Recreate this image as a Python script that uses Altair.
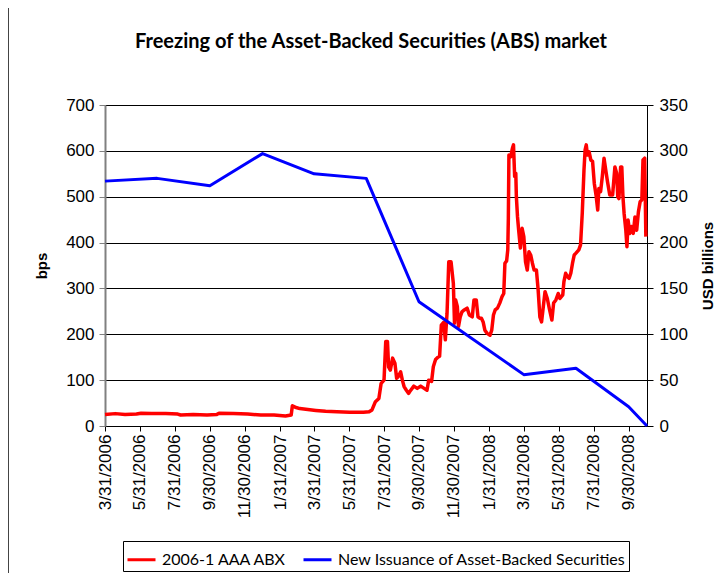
import altair as alt
import pandas as pd

title_text = "Freezing of the Asset-Backed Securities (ABS) market"
series_names = ["2006-1 AAA ABX", "New Issuance of Asset-Backed Securities"]
series_colors = ["#FF0000", "#0000FF"]

# 2006-1 AAA ABX spread (bps, left axis)
abx_dates = [
    "2006-03-31", "2006-04-18", "2006-05-05", "2006-05-25", "2006-06-02", "2006-06-20",
    "2006-07-15", "2006-08-05", "2006-08-10", "2006-09-01", "2006-09-25", "2006-10-12",
    "2006-10-16", "2006-11-10", "2006-12-05", "2006-12-28", "2007-01-20", "2007-02-09",
    "2007-02-19", "2007-02-21", "2007-02-26", "2007-03-06", "2007-03-20", "2007-04-03",
    "2007-04-20", "2007-05-10", "2007-06-01", "2007-06-25", "2007-07-05", "2007-07-10",
    "2007-07-16", "2007-07-22", "2007-07-26", "2007-07-31", "2007-08-03", "2007-08-06",
    "2007-08-08", "2007-08-11", "2007-08-15", "2007-08-19", "2007-08-22", "2007-08-25",
    "2007-08-29", "2007-09-01", "2007-09-04", "2007-09-08", "2007-09-12", "2007-09-15",
    "2007-09-21", "2007-09-27", "2007-10-03", "2007-10-09", "2007-10-14", "2007-10-17",
    "2007-10-22", "2007-10-25", "2007-10-29", "2007-11-02", "2007-11-05", "2007-11-08",
    "2007-11-12", "2007-11-15", "2007-11-18", "2007-11-21", "2007-11-25", "2007-11-29",
    "2007-12-01", "2007-12-03", "2007-12-06", "2007-12-08", "2007-12-11", "2007-12-14",
    "2007-12-18", "2007-12-23", "2007-12-27", "2008-01-01", "2008-01-04", "2008-01-08",
    "2008-01-11", "2008-01-14", "2008-01-17", "2008-01-20", "2008-01-23", "2008-01-27",
    "2008-02-01", "2008-02-04", "2008-02-07", "2008-02-10", "2008-02-14", "2008-02-18",
    "2008-02-22", "2008-02-25", "2008-02-27", "2008-03-01", "2008-03-03", "2008-03-04",
    "2008-03-05", "2008-03-08", "2008-03-11", "2008-03-13", "2008-03-15", "2008-03-17",
    "2008-03-18", "2008-03-20", "2008-03-22", "2008-03-25", "2008-03-28", "2008-03-31",
    "2008-04-03", "2008-04-06", "2008-04-09", "2008-04-12", "2008-04-15", "2008-04-18",
    "2008-04-22", "2008-04-25", "2008-04-28", "2008-05-01", "2008-05-03", "2008-05-07",
    "2008-05-11", "2008-05-15", "2008-05-19", "2008-05-22", "2008-05-26", "2008-05-30",
    "2008-06-02", "2008-06-07", "2008-06-09", "2008-06-12", "2008-06-15", "2008-06-18",
    "2008-06-21", "2008-06-24", "2008-06-27", "2008-06-30", "2008-07-05", "2008-07-08",
    "2008-07-11", "2008-07-14", "2008-07-16", "2008-07-18", "2008-07-20", "2008-07-23",
    "2008-07-26", "2008-07-29", "2008-08-01", "2008-08-04", "2008-08-07", "2008-08-09",
    "2008-08-12", "2008-08-15", "2008-08-18", "2008-08-21", "2008-08-24", "2008-08-28",
    "2008-09-02", "2008-09-06", "2008-09-09", "2008-09-11", "2008-09-13", "2008-09-16",
    "2008-09-18", "2008-09-20", "2008-09-22", "2008-09-25", "2008-09-27", "2008-09-29",
    "2008-10-02", "2008-10-05", "2008-10-08", "2008-10-11", "2008-10-14", "2008-10-17",
    "2008-10-20", "2008-10-23", "2008-10-25", "2008-10-28", "2008-10-30",
]
abx_bps = [
    25, 27, 25, 26, 28, 27,
    27, 26, 24, 25, 24, 25,
    28, 27, 26, 24, 24, 22,
    24, 44, 41, 38, 36, 34,
    32, 31, 30, 30, 31, 35,
    53, 60, 93, 100, 184, 184,
    129, 122, 148, 137, 104, 108,
    118, 100, 86, 78, 71, 77,
    87, 82, 87, 82, 78, 100,
    97, 129, 145, 150, 152, 220,
    226, 188, 246, 358, 358, 311,
    224, 275, 260, 217, 238, 249,
    253, 257, 242, 238, 275, 275,
    238, 235, 235, 227, 209, 202,
    198, 209, 242, 253, 257, 268,
    282, 289, 355, 360, 384, 453,
    591, 587, 605, 613, 544, 551,
    500, 456, 427, 388, 431, 413,
    358, 340, 380, 373, 355, 340,
    340, 297, 238, 227, 249, 293,
    278, 253, 231, 268, 275, 289,
    278, 286, 315, 333, 326, 322,
    333, 355, 373, 377, 384, 395,
    464, 558, 602, 613, 591, 598,
    580, 577, 529, 504, 471, 518,
    511, 544, 584, 558, 533, 504,
    504, 565, 551, 500, 496, 565,
    565, 500, 464, 427, 391, 449,
    420, 435, 420, 456, 427, 467,
    489, 493, 580, 584, 413,
]

# New issuance of ABS (USD billions, right axis)
abs_dates = [
    "2006-03-31", "2006-06-30", "2006-09-30", "2006-12-31", "2007-03-31", "2007-06-30",
    "2007-09-30", "2008-03-31", "2008-06-30", "2008-09-30", "2008-11-01",
]
abs_usd_bn = [267, 270, 262, 297, 275, 270, 135.5, 56, 63, 21, 0]

tick_dates = [
    (2006, 3, 31), (2006, 5, 31), (2006, 7, 31), (2006, 9, 30), (2006, 11, 30),
    (2007, 1, 31), (2007, 3, 31), (2007, 5, 31), (2007, 7, 31), (2007, 9, 30),
    (2007, 11, 30), (2008, 1, 31), (2008, 3, 31), (2008, 5, 31), (2008, 7, 31),
    (2008, 9, 30),
]
x_domain = [(2006, 3, 31), (2008, 11, 1)]
left_ticks = [0, 100, 200, 300, 400, 500, 600, 700]
right_ticks = [0, 50, 100, 150, 200, 250, 300, 350]

abx = pd.DataFrame({
    "date": [d + "T00:00:00" for d in abx_dates],
    "value": abx_bps,
    "series": series_names[0],
})
abs_df = pd.DataFrame({
    "date": [d + "T00:00:00" for d in abs_dates],
    "value": abs_usd_bn,
    "series": series_names[1],
})

def dt(t):
    return alt.DateTime(year=t[0], month=t[1], date=t[2])

LABEL_FONT = "Liberation Sans"

x_enc = alt.X(
    "date:T",
    scale=alt.Scale(domain=[dt(t) for t in x_domain], nice=False),
    axis=alt.Axis(
        values=[dt(t) for t in tick_dates],
        format="%-m/%-d/%Y",
        labelAngle=270,
        labelFont=LABEL_FONT,
        labelFontSize=17,
        labelColor="black",
        labelOverlap=False,
        labelBound=False,
        labelFlush=False,
        labelPadding=3,
        tickSize=5,
        tickColor="black",
        domainColor="black",
        grid=False,
        title=None,
    ),
)

color_enc = alt.Color(
    "series:N",
    scale=alt.Scale(domain=series_names, range=series_colors),
    legend=alt.Legend(
        title=None,
        orient="none",
        legendX=18,
        legendY=436,
        direction="horizontal",
        symbolType="stroke",
        symbolSize=784,
        symbolStrokeWidth=3,
        labelFont="Lato",
        labelFontSize=16,
        labelColor="black",
        labelLimit=400,
        labelOffset=5,
        columnPadding=10,
        padding=3,
        strokeColor="black",
        fillColor="white",
    ),
)

red = alt.Chart(abx).mark_line(strokeWidth=3.5, strokeJoin="round").encode(
    x=x_enc,
    y=alt.Y(
        "value:Q",
        scale=alt.Scale(domain=[0, 700], nice=False),
        axis=alt.Axis(
            title="bps",
            values=left_ticks,
            grid=True,
            gridColor="black",
            gridWidth=1,
            gridOpacity=1,
            domainColor="#808080",
            domainWidth=2,
            tickColor="#808080",
            tickSize=6,
            labelFont=LABEL_FONT,
            labelFontSize=17,
            labelColor="black",
            labelPadding=5,
            titleFont=LABEL_FONT,
            titleFontSize=15,
            titleFontWeight="bold",
            titleColor="black",
            titlePadding=16,
        ),
    ),
    color=color_enc,
)

blue = alt.Chart(abs_df).mark_line(strokeWidth=3, strokeJoin="round").encode(
    x=x_enc,
    y=alt.Y(
        "value:Q",
        scale=alt.Scale(domain=[0, 350], nice=False),
        axis=alt.Axis(
            title="USD billions",
            orient="right",
            values=right_ticks,
            grid=False,
            domainColor="black",
            tickColor="black",
            tickSize=6,
            labelFont=LABEL_FONT,
            labelFontSize=17,
            labelColor="black",
            labelPadding=6,
            titleFont=LABEL_FONT,
            titleFontSize=15,
            titleFontWeight="bold",
            titleColor="black",
            titleAngle=270,
            titlePadding=28,
        ),
    ),
    color=color_enc,
)

title_mark = alt.Chart(pd.DataFrame({"t": [title_text]})).mark_text(
    font="Lato", fontSize=20, fontWeight="bold", color="black",
    align="center", baseline="middle",
).encode(x=alt.value(266), y=alt.value(-63), text="t:N")

border = alt.Chart(pd.DataFrame({"k": [0]})).mark_rule(color="#444444", strokeWidth=1).encode(
    x=alt.value(-96.5), y=alt.value(-97), y2=alt.value(470)
)

chart = alt.layer(red, blue, title_mark, border).resolve_scale(y="independent").properties(
    width=542,
    height=321,
    autosize=alt.AutoSizeParams(type="none"),
    padding={"left": 97, "top": 97, "right": 68, "bottom": 147},
).configure_view(stroke=None).configure(background="white")

chart.save("out.html", embed_options={"renderer": "svg", "actions": False})
